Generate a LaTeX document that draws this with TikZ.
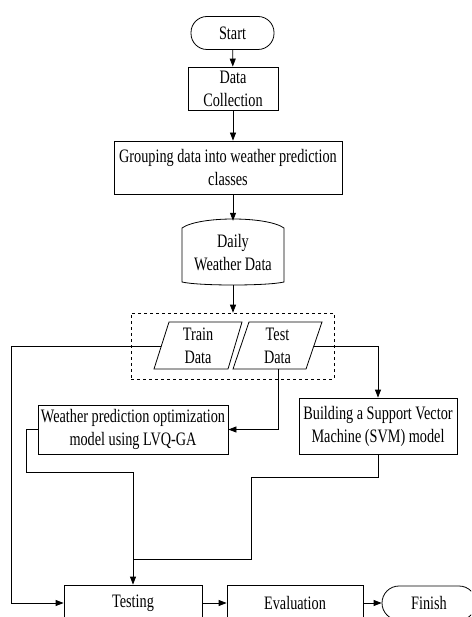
\documentclass[tikz,border=0pt]{standalone}
\usepackage{fontspec}
\setmainfont{Liberation Serif}[FakeStretch=0.75]
\usetikzlibrary{arrows.meta}
\begin{document}
\begin{tikzpicture}[x=1pt,y=-1pt,
  every node/.style={font=\fontsize{19}{23}\selectfont, align=center, inner sep=0pt},
  box/.style={draw, line width=0.8pt},
  term/.style={draw, line width=0.8pt, rounded corners=16pt},
  conn/.style={line width=0.8pt},
  arr/.style={conn, -{Triangle[length=8pt,width=6pt]}}]
\useasboundingbox (0,0) rectangle (471,617);
\clip (0,0) rectangle (471,617);
% nodes
\node[term, minimum width=83pt, minimum height=33pt] (start) at (232.5,33) {Start};
\node[box, minimum width=90pt, minimum height=43pt] (collect) at (233,88.5) {Data\\Collection};
\node[box, minimum width=228pt, minimum height=53pt] (group) at (228,167.5) {Grouping data into weather prediction\\classes};
% cylinder-like store
\draw[conn] (182,228) .. controls (199,216) and (267,216) .. (284,228) -- (284,282)
  .. controls (267,286) and (199,286) .. (182,282) -- cycle;
\node[minimum width=102pt, minimum height=64pt] (daily) at (233,253) {Daily\\Weather Data};
% dashed split box
\node[draw, dashed, line width=0.6pt, minimum width=203pt, minimum height=66pt] (split) at (232.5,346) {};
% parallelograms
\draw[conn] (169,322) -- (242,322) -- (228,369) -- (154,369) -- cycle;
\draw[conn] (249,322) -- (322,322) -- (306,369) -- (233,369) -- cycle;
\node (train) at (198,345.5) {Train\\Data};
\node (test) at (277.5,345.5) {Test\\Data};
\coordinate (trainL) at (161.3,346);
\coordinate (testR) at (313.8,346);
\coordinate (testB) at (278,369);
% model boxes
\node[box, minimum width=190pt, minimum height=49pt] (lvq) at (133,429.5) {Weather prediction optimization\\model using LVQ-GA};
\node[box, minimum width=158pt, minimum height=56pt] (svm) at (378,426) {Building a Support Vector\\Machine (SVM) model};
% bottom row
\node[box, minimum width=138pt, minimum height=36pt] (testing) at (133,603) {Testing};
\node[box, minimum width=136pt, minimum height=36pt] (eval) at (295,603) {Evaluation};
\node[term, minimum width=94pt, minimum height=34pt, rounded corners=17pt] (finish) at (429,603) {Finish};
% helper coordinates
\coordinate (lvqbend) at (26,472);
\coordinate (join) at (133,559);
\coordinate (svmbend) at (251,477);
\coordinate (trainbend) at (11,603);
% connectors
\draw[arr] (start) -- (collect);
\draw[arr] (collect) -- (collect |- group.north);
\draw[arr] (daily.north |- group.south) -- (daily.north);
\draw[arr] (daily.south) -- (daily.south |- split.north);
\draw[arr] (trainL) -| (trainbend) -- (testing.west);
\draw[arr] (testR) -| (svm.north);
\draw[arr] (testB) |- (lvq.east);
\draw[arr] (lvq.west) -| (lvqbend) -- (testing.north |- lvqbend) -- (testing.north);
\draw[conn] (svm.south) -- (svm.south |- svmbend) -- (svmbend) |- (join);
\draw[arr] (testing) -- (eval);
\draw[arr] (eval) -- (finish);
\end{tikzpicture}
\end{document}
